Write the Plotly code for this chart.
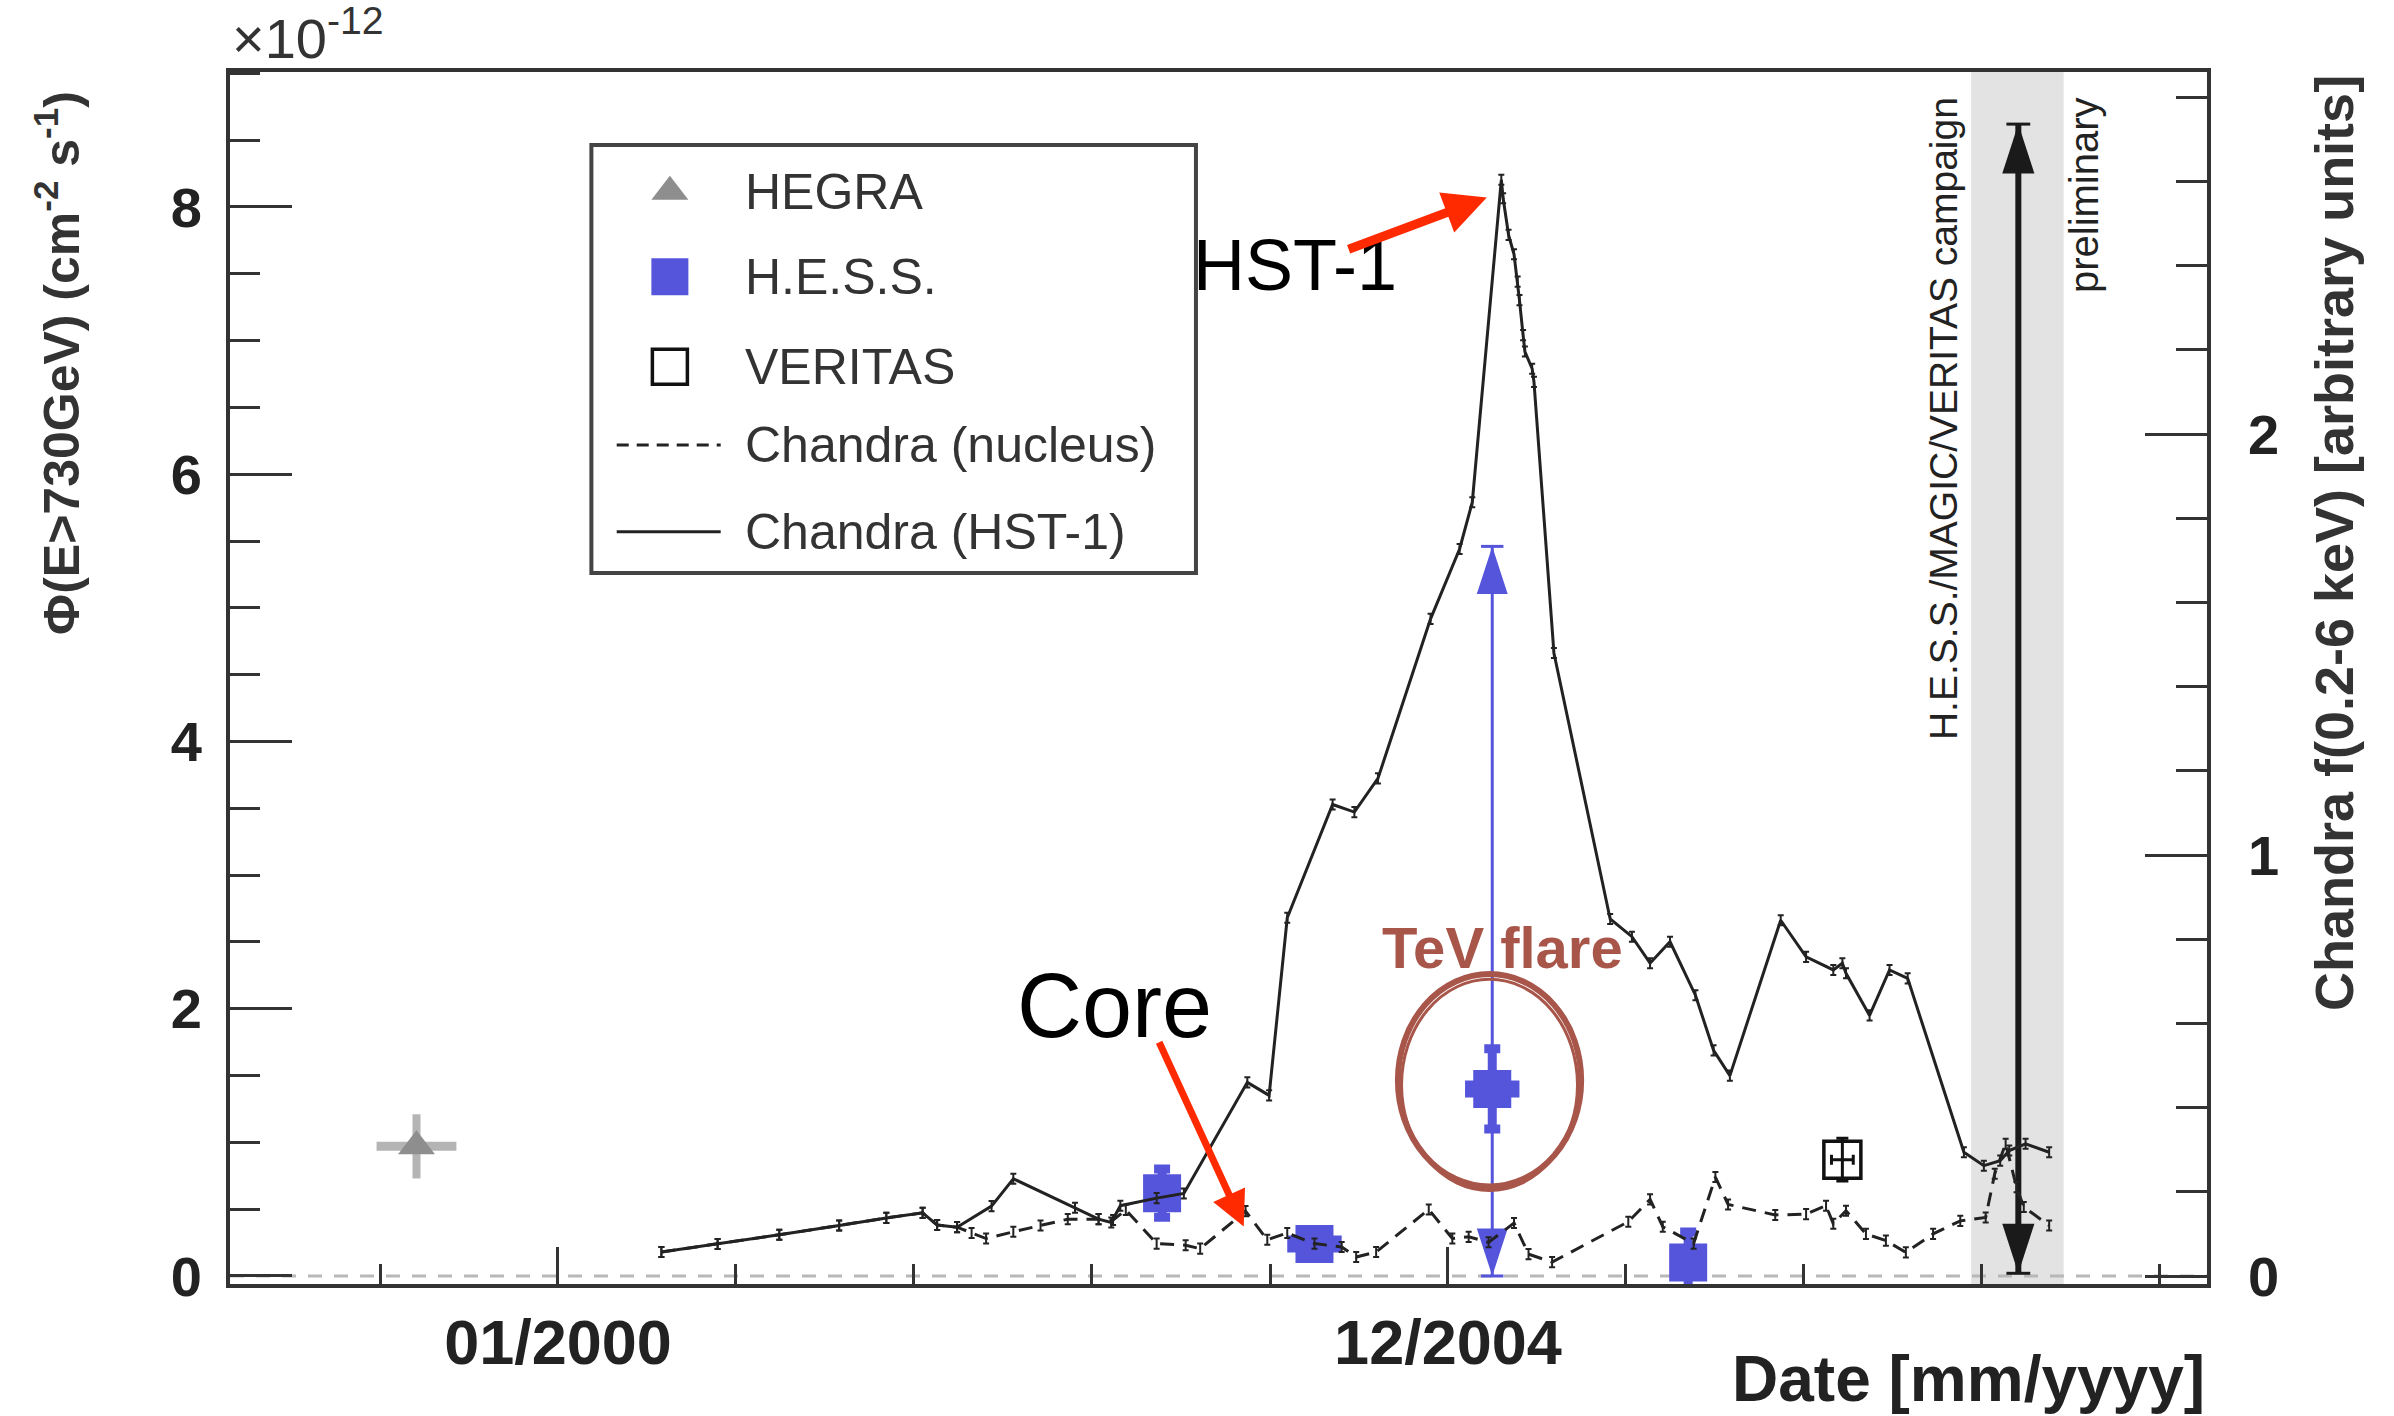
import plotly.graph_objects as go

FONT = "Liberation Sans, Arial, Helvetica, sans-serif"
BLUE = "#5555dc"
GREY = "#8e8e8e"
DARK = "#222222"
RED = "#ff2a00"
BROWN = "#a8554a"

# ---------------- data (x in decimal years) ----------------
# Chandra HST-1 (right axis, arbitrary units)
hst_x = [2000.57, 2000.88, 2001.22, 2001.55, 2001.81, 2002.01, 2002.09, 2002.20, 2002.39, 2002.51,
         2002.85, 2002.98, 2003.05, 2003.10, 2003.30, 2003.45, 2003.80, 2003.92, 2004.02, 2004.27,
         2004.39, 2004.52, 2004.81, 2004.97, 2005.04, 2005.20, 2005.21, 2005.24, 2005.27, 2005.29,
         2005.30, 2005.32, 2005.33, 2005.37, 2005.38, 2005.49, 2005.80, 2005.92, 2006.02, 2006.13,
         2006.27, 2006.37, 2006.46, 2006.74, 2006.88, 2007.03, 2007.08, 2007.10, 2007.23, 2007.34,
         2007.44, 2007.75, 2007.86, 2007.95, 2008.00, 2008.09, 2008.22]
hst_y = [0.057, 0.076, 0.098, 0.120, 0.138, 0.150, 0.121, 0.116, 0.166, 0.231,
         0.162, 0.135, 0.127, 0.167, 0.185, 0.196, 0.460, 0.429, 0.851, 1.120,
         1.102, 1.182, 1.561, 1.727, 1.838, 2.604, 2.560, 2.473, 2.427, 2.362,
         2.318, 2.235, 2.196, 2.155, 2.124, 1.480, 0.848, 0.806, 0.743, 0.794,
         0.667, 0.536, 0.476, 0.845, 0.758, 0.727, 0.743, 0.719, 0.619, 0.727,
         0.707, 0.294, 0.262, 0.274, 0.298, 0.314, 0.294]

# Chandra nucleus (right axis, arbitrary units)
nuc_x = [2000.57, 2000.88, 2001.22, 2001.55, 2001.81, 2002.01, 2002.09, 2002.20, 2002.28, 2002.36,
         2002.51, 2002.66, 2002.81, 2002.98, 2003.06, 2003.13, 2003.30, 2003.46, 2003.54, 2003.79,
         2003.91, 2004.02, 2004.17, 2004.32, 2004.40, 2004.51, 2004.80, 2004.93, 2005.02, 2005.13,
         2005.27, 2005.35, 2005.48, 2005.90, 2006.02, 2006.09, 2006.26, 2006.38, 2006.45, 2006.71,
         2006.88, 2006.99, 2007.03, 2007.10, 2007.21, 2007.32, 2007.43, 2007.58, 2007.73, 2007.87,
         2007.92, 2007.98, 2008.04, 2008.08, 2008.22]
nuc_y = [0.057, 0.076, 0.098, 0.120, 0.138, 0.150, 0.121, 0.116, 0.102, 0.089,
         0.105, 0.120, 0.135, 0.135, 0.133, 0.157, 0.077, 0.073, 0.065, 0.154,
         0.086, 0.102, 0.077, 0.069, 0.045, 0.057, 0.158, 0.089, 0.093, 0.080,
         0.126, 0.052, 0.033, 0.129, 0.182, 0.117, 0.077, 0.235, 0.170, 0.145,
         0.147, 0.167, 0.124, 0.155, 0.100, 0.084, 0.056, 0.100, 0.131, 0.139,
         0.243, 0.314, 0.211, 0.164, 0.120]
chandra_err = 0.012

# TeV fluxes, units of 1e-12 cm^-2 s^-1 (left axis)
hegra_x = [1999.22]
hegra_y = [0.97]
hegra_ex = [0.22]
hegra_ey = [0.24]

hess_x = [2003.33, 2004.17, 2005.15, 2006.23]
hess_y = [0.62, 0.24, 1.40, 0.10]
hess_ex = [0.0, 0.15, 0.15, 0.0]
hess_ey = [0.18, 0.05, 0.30, 0.23]

veritas_x = [2007.08]
veritas_y = [0.87]
veritas_ex = [0.06]
veritas_ey = [0.16]

# flare range arrow (H.E.S.S. 2005) and 2008 campaign arrow
flare_arrow_x = [2005.15, 2005.15]
flare_arrow_y = [0.0, 5.46]
campaign_arrow_x = [2008.05, 2008.05]
campaign_arrow_y = [0.02, 8.62]
campaign_band = [2007.79, 2008.30]

# hand-drawn ellipse around the TeV flare (two strokes)
flare_ellipse_x = [2004.63, 2005.64]
flare_ellipse_y = [0.67, 2.26]
flare_ellipse2_x = [2004.65, 2005.62]
flare_ellipse2_y = [0.64, 2.22]

# red annotation arrows: (tail, tip)
hst1_arrow = {"tail": (2004.35, 7.68), "tip": (2005.12, 8.07)}
core_arrow = {"tail": (2003.31, 1.76), "tip": (2003.78, 0.37)}

# axes
x_range = [1998.192, 2009.090]
y_range = [-0.06, 9.01]
y2_range = [-0.019, 2.860]
x_major_ticks = [2000.0, 2004.906]
x_tick_labels = ["01/2000", "12/2004"]
x_minor_ticks = [1999.019, 2000.981, 2001.962, 2002.943, 2003.925, 2005.887, 2006.868,
                 2007.849, 2008.830]

# legend
legend_labels = ["HEGRA", "H.E.S.S.", "VERITAS", "Chandra (nucleus)", "Chandra (HST-1)"]
legend_rows = [0.9012, 0.8311, 0.7568, 0.6922, 0.6207]
legend_box = dict(x0=0.1828, x1=0.4886, y0=0.5866, y1=0.9398)
legend_sym_x = 0.2225
legend_line_x = [0.1956, 0.2482]
legend_text_x = 0.2596

fig = go.Figure()

# campaign band and zero line
fig.add_shape(type="rect", xref="x", yref="paper", x0=campaign_band[0], x1=campaign_band[1],
              y0=0, y1=1, fillcolor="#e3e3e3", line_width=0, layer="below")
fig.add_shape(type="line", xref="paper", yref="y", x0=0, x1=1, y0=0, y1=0,
              line=dict(color="#b8b8b8", width=3, dash="14px,12px"), layer="below")
fig.add_shape(type="rect", xref="paper", yref="paper", fillcolor="white",
              line=dict(color="#444", width=4), layer="below", **legend_box)

# Chandra curves
fig.add_trace(go.Scatter(x=nuc_x, y=nuc_y, yaxis="y2", mode="lines",
                         line=dict(color=DARK, width=3, dash="14px,9px"),
                         error_y=dict(type="constant", value=chandra_err, thickness=2, width=3, color=DARK)))
fig.add_trace(go.Scatter(x=hst_x, y=hst_y, yaxis="y2", mode="lines",
                         line=dict(color=DARK, width=3),
                         error_y=dict(type="constant", value=chandra_err, thickness=2, width=3, color=DARK)))

# HEGRA
fig.add_trace(go.Scatter(x=hegra_x, y=hegra_y, mode="markers",
                         marker=dict(symbol="triangle-up", size=32, color=GREY),
                         error_x=dict(type="data", array=hegra_ex, thickness=9, width=0, color="#b4b4b4"),
                         error_y=dict(type="data", array=hegra_ey, thickness=8, width=0, color="#b4b4b4")))

# flare arrow
fig.add_trace(go.Scatter(x=flare_arrow_x, y=flare_arrow_y, mode="lines+markers",
                         line=dict(color=BLUE, width=3),
                         marker=dict(symbol="line-ew", size=16, line=dict(color=BLUE, width=3))))
fig.add_trace(go.Scatter(x=flare_arrow_x, y=flare_arrow_y, mode="markers",
                         marker=dict(symbol="arrow", size=50, angle=[180, 0], color=BLUE,
                                     line=dict(width=0))))

# H.E.S.S.
fig.add_trace(go.Scatter(x=hess_x, y=hess_y, mode="markers",
                         marker=dict(symbol="square", size=38, color=BLUE),
                         error_x=dict(type="data", array=hess_ex, thickness=17, width=0, color=BLUE),
                         error_y=dict(type="data", array=hess_ey, thickness=9, width=8, color=BLUE)))

# VERITAS
fig.add_trace(go.Scatter(x=veritas_x, y=veritas_y, mode="markers",
                         marker=dict(symbol="square-open", size=37, color="#111",
                                     line=dict(width=3.5, color="#111")),
                         error_x=dict(type="data", array=veritas_ex, thickness=3, width=5, color="#111"),
                         error_y=dict(type="data", array=veritas_ey, thickness=3, width=6, color="#111")))

# campaign arrow
fig.add_trace(go.Scatter(x=campaign_arrow_x, y=campaign_arrow_y, mode="lines+markers",
                         line=dict(color="#1a1a1a", width=6),
                         marker=dict(symbol="line-ew", size=17, line=dict(color="#1a1a1a", width=3))))
fig.add_trace(go.Scatter(x=campaign_arrow_x, y=campaign_arrow_y, mode="markers",
                         marker=dict(symbol="arrow", size=52, angle=[180, 0], color="#1a1a1a",
                                     line=dict(width=0))))

# ---------- custom legend (symbols on an overlay axis spanning the plot area) ----------
LX, LY = "x2", "y3"
fig.add_trace(go.Scatter(x=[legend_sym_x], y=[legend_rows[0]], xaxis=LX, yaxis=LY, mode="markers",
                         marker=dict(symbol="triangle-up", size=32, color=GREY)))
fig.add_trace(go.Scatter(x=[legend_sym_x], y=[legend_rows[1]], xaxis=LX, yaxis=LY, mode="markers",
                         marker=dict(symbol="square", size=37, color=BLUE)))
fig.add_trace(go.Scatter(x=[legend_sym_x], y=[legend_rows[2]], xaxis=LX, yaxis=LY, mode="markers",
                         marker=dict(symbol="square-open", size=35, color="#111", line=dict(width=3.5))))
fig.add_trace(go.Scatter(x=legend_line_x, y=[legend_rows[3]] * 2, xaxis=LX, yaxis=LY, mode="lines",
                         line=dict(color=DARK, width=3, dash="12px,8px")))
fig.add_trace(go.Scatter(x=legend_line_x, y=[legend_rows[4]] * 2, xaxis=LX, yaxis=LY, mode="lines",
                         line=dict(color=DARK, width=3)))

# flare ellipse (sketchy double stroke)
fig.add_shape(type="circle", xref="x", yref="y", x0=flare_ellipse_x[0], x1=flare_ellipse_x[1],
              y0=flare_ellipse_y[0], y1=flare_ellipse_y[1], line=dict(color=BROWN, width=6))
fig.add_shape(type="circle", xref="x", yref="y", x0=flare_ellipse2_x[0], x1=flare_ellipse2_x[1],
              y0=flare_ellipse2_y[0], y1=flare_ellipse2_y[1], line=dict(color=BROWN, width=3))


def label(x, y, text, size, color="#222", weight="normal", angle=0, xanchor="center",
          yanchor="middle"):
    return dict(x=x, y=y, xref="paper", yref="paper", text=text, showarrow=False,
                textangle=angle, xanchor=xanchor, yanchor=yanchor,
                font=dict(family=FONT, size=size, color=color, weight=weight))


annotations = []
for lab, yy in zip(legend_labels, legend_rows):
    annotations.append(label(legend_text_x, yy, lab, 50, color="#333", xanchor="left"))

annotations += [
    label(-0.087, 0.76, "Φ(E&gt;730GeV) (cm<sup>-2</sup> s<sup>-1</sup>)", 50, color="#333",
          weight="bold", angle=-90),
    label(1.0643, 0.6114, "Chandra f(0.2-6 keV) [arbitrary units]", 54, color="#333",
          weight="bold", angle=-90),
    label(1.0, -0.078, "Date [mm/yyyy]", 64, weight="bold", xanchor="right"),
    label(0.0, 1.0, "×10<sup>-12</sup>", 56, color="#333", xanchor="left", yanchor="bottom"),
    label(0.867, 0.7137, "H.E.S.S./MAGIC/VERITAS campaign", 39, angle=-90),
    label(0.9378, 0.8985, "preliminary", 40, angle=-90),
    label(0.5387, 0.8408, "HST-1", 72, color="black"),
    label(0.4476, 0.2294, "Core", 90, color="black"),
    label(0.6438, 0.2778, "TeV flare", 58, color=BROWN, weight="bold"),
    dict(x=hst1_arrow["tip"][0], y=hst1_arrow["tip"][1], ax=hst1_arrow["tail"][0],
         ay=hst1_arrow["tail"][1], xref="x", yref="y", axref="x", ayref="y", text="",
         showarrow=True, arrowhead=2, arrowsize=0.95, arrowwidth=9, arrowcolor=RED),
    dict(x=core_arrow["tip"][0], y=core_arrow["tip"][1], ax=core_arrow["tail"][0],
         ay=core_arrow["tail"][1], xref="x", yref="y", axref="x", ayref="y", text="",
         showarrow=True, arrowhead=2, arrowsize=1.0, arrowwidth=7, arrowcolor=RED),
]

tickfont = dict(family=FONT, size=56, color="#222", weight="bold")
fig.update_layout(
    width=2394, height=1416,
    margin=dict(l=230, r=187, t=72, b=132),
    paper_bgcolor="white", plot_bgcolor="white",
    showlegend=False,
    annotations=annotations,
    xaxis=dict(range=x_range, tickmode="array", tickvals=x_major_ticks, ticktext=x_tick_labels,
               ticks="inside", ticklen=37, tickwidth=3, tickcolor="#333",
               showline=True, mirror=True, linewidth=4, linecolor="#333",
               showgrid=False, zeroline=False, ticklabelstandoff=0,
               tickfont=dict(family=FONT, size=63, color="#222", weight="bold"),
               minor=dict(tickmode="array", tickvals=x_minor_ticks, ticks="inside",
                          ticklen=20, tickwidth=3, tickcolor="#333", showgrid=False)),
    yaxis=dict(range=y_range, tickmode="linear", tick0=0, dtick=2, ticks="inside", ticklen=62,
               tickwidth=3, tickcolor="#333", showline=True, mirror=True, linewidth=4,
               linecolor="#333", showgrid=False, zeroline=False, tickfont=tickfont,
               ticklabelstandoff=13,
               minor=dict(tick0=0, dtick=0.5, ticks="inside", ticklen=30, tickwidth=3,
                          tickcolor="#333", showgrid=False)),
    yaxis2=dict(range=y2_range, overlaying="y", side="right", tickmode="linear", tick0=0, dtick=1,
                ticks="inside", ticklen=62, tickwidth=3, tickcolor="#333", showline=False,
                showgrid=False, zeroline=False, tickfont=tickfont, ticklabelstandoff=40,
                minor=dict(tick0=0, dtick=0.2, ticks="inside", ticklen=31, tickwidth=3,
                           tickcolor="#333", showgrid=False)),
    xaxis2=dict(overlaying="x", range=[0, 1], visible=False),
    yaxis3=dict(overlaying="y", range=[0, 1], visible=False),
)

fig.write_html("out.html")
